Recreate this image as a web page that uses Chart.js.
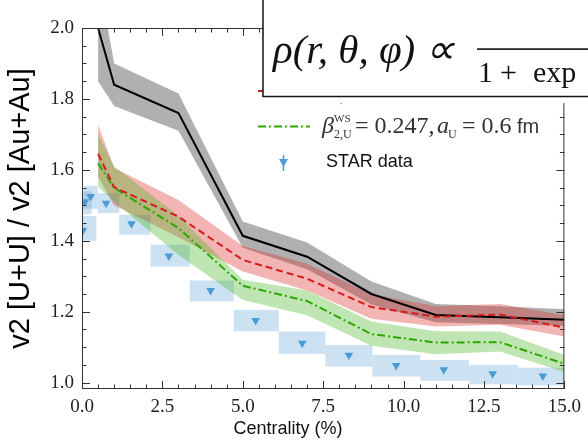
<!DOCTYPE html>
<html>
<head>
<meta charset="utf-8">
<script src="https://cdn.jsdelivr.net/npm/chart.js@4"></script>
<style>
  html, body { margin: 0; padding: 0; background: #fff; }
</style>
</head>
<body>
<canvas id="ratio" width="588" height="441"></canvas>
<script>
// model curves (centrality %)
const centrality = [0.5, 1, 3, 5, 7, 9, 11, 13, 15];
const blackMid = [2.0, 1.84, 1.76, 1.414, 1.355, 1.25, 1.191, 1.184, 1.177];
const blackLo = [1.85, 1.78, 1.71, 1.38, 1.32, 1.22, 1.17, 1.165, 1.16];
const blackHi = [2.15, 1.90, 1.815, 1.454, 1.395, 1.285, 1.222, 1.215, 1.207];
const redMid = [1.645, 1.551, 1.468, 1.346, 1.293, 1.213, 1.186, 1.192, 1.155];
const redLo = [1.58, 1.50, 1.41, 1.313, 1.26, 1.18, 1.158, 1.163, 1.13];
const redHi = [1.727, 1.605, 1.515, 1.385, 1.335, 1.25, 1.215, 1.222, 1.19];
const greenMid = [1.619, 1.549, 1.436, 1.273, 1.23, 1.137, 1.113, 1.114, 1.053];
const greenLo = [1.553, 1.51, 1.36, 1.233, 1.19, 1.104, 1.08, 1.088, 1.03];
const greenHi = [1.70, 1.61, 1.47, 1.29, 1.26, 1.172, 1.145, 1.144, 1.078];

// STAR data with systematic boxes
const starX = [0.03, 0.09, 0.27, 0.75, 1.54, 2.7, 4.0, 5.4, 6.85, 8.3, 9.77, 11.25, 12.77, 14.33];
const starY = [1.43, 1.51, 1.525, 1.506, 1.448, 1.357, 1.26, 1.175, 1.111, 1.077, 1.048, 1.036, 1.025, 1.019];
const starXLo = [-0.3, -0.2, 0.05, 0.49, 1.16, 2.13, 3.35, 4.72, 6.12, 7.57, 9.03, 10.52, 12.03, 13.55];
const starXHi = [0.45, 0.3, 0.49, 1.16, 2.13, 3.35, 4.72, 6.12, 7.57, 9.03, 10.52, 12.03, 13.55, 15.1];
const starYLo = [1.40, 1.475, 1.49, 1.478, 1.417, 1.327, 1.229, 1.145, 1.081, 1.045, 1.017, 1.005, 0.995, 0.992];
const starYHi = [1.47, 1.54, 1.555, 1.534, 1.473, 1.389, 1.288, 1.205, 1.144, 1.106, 1.078, 1.064, 1.05, 1.042];

const xTicks = [0, 2.5, 5, 7.5, 10, 12.5, 15];
const yTicks = [1.0, 1.2, 1.4, 1.6, 1.8, 2.0];

const pts = (ys) => centrality.map((x, i) => ({ x: x, y: ys[i] }));

const BLUE = "#4b9bd5";
const RED = "#d41c1c";
const GREEN = "#2aa800";

function band(ys, color) {
  return { data: pts(ys), borderWidth: 0, pointRadius: 0, fill: "+1", backgroundColor: color, order: 5 };
}
function edge(ys) {
  return { data: pts(ys), borderWidth: 0, pointRadius: 0, fill: false, order: 5 };
}

// boxes, inward ticks, spines, legend and formula box
const extras = {
  id: "extras",
  beforeDatasetsDraw(chart) {
    const { ctx, chartArea: a, scales: { x, y } } = chart;
    ctx.save();
    ctx.beginPath();
    ctx.rect(a.left, a.top, a.right - a.left, a.bottom - a.top);
    ctx.clip();
    ctx.fillStyle = "rgba(110,170,215,0.35)";
    for (let i = 0; i < starX.length; i++) {
      const x0 = x.getPixelForValue(starXLo[i]), x1 = x.getPixelForValue(starXHi[i]);
      const y0 = y.getPixelForValue(starYHi[i]), y1 = y.getPixelForValue(starYLo[i]);
      ctx.fillRect(x0, y0, x1 - x0, y1 - y0);
    }
    ctx.restore();
  },
  afterDraw(chart) {
    const { ctx, chartArea: a, scales: { x, y } } = chart;
    ctx.save();
    ctx.strokeStyle = "#333";
    ctx.lineWidth = 1;
    ctx.strokeRect(a.left + 0.5, a.top + 0.5, a.right - a.left - 1, a.bottom - a.top - 1);
    ctx.beginPath();
    for (let v = 0; v <= 15.001; v += 0.5) {
      const px = Math.round(x.getPixelForValue(v)) + 0.5;
      const len = Math.abs(v / 2.5 - Math.round(v / 2.5)) < 1e-6 ? 8 : 4.5;
      ctx.moveTo(px, a.bottom); ctx.lineTo(px, a.bottom - len);
      ctx.moveTo(px, a.top); ctx.lineTo(px, a.top + len);
    }
    for (let v = 1.0; v <= 2.0001; v += 0.05) {
      const py = Math.round(y.getPixelForValue(v)) + 0.5;
      const len = Math.abs(v / 0.2 - Math.round(v / 0.2)) < 1e-6 ? 8 : 4.5;
      ctx.moveTo(a.left, py); ctx.lineTo(a.left + len, py);
      ctx.moveTo(a.right, py); ctx.lineTo(a.right - len, py);
    }
    ctx.stroke();

    // x axis title
    ctx.fillStyle = "#111";
    ctx.font = '18px "Liberation Sans"';
    ctx.textAlign = "center";
    ctx.textBaseline = "alphabetic";
    ctx.fillText("Centrality (%)", 288, 434);

    // legend
    ctx.textAlign = "left";
    ctx.lineWidth = 2;
    ctx.strokeStyle = RED;
    ctx.setLineDash([7, 4]);
    ctx.beginPath(); ctx.moveTo(258, 91); ctx.lineTo(310, 91); ctx.stroke();
    ctx.strokeStyle = GREEN;
    ctx.setLineDash([8, 3, 2, 3]);
    ctx.beginPath(); ctx.moveTo(258, 126.5); ctx.lineTo(310, 126.5); ctx.stroke();
    ctx.setLineDash([]);

    const mathEntry = (base, rest) => {
      ctx.fillStyle = "#333";
      ctx.font = 'italic 24px "Liberation Serif"';
      ctx.fillText("\u03b2", 322, base);
      ctx.font = '11px "Liberation Serif"';
      ctx.fillText("WS", 334, base - 11);
      ctx.font = '12px "Liberation Serif"';
      ctx.fillText("2,U", 334, base + 5);
      if (!rest) return;
      ctx.font = '24px "Liberation Serif"';
      ctx.fillText("= 0.247,", 355, base);
      ctx.font = 'italic 24px "Liberation Serif"';
      ctx.fillText("a", 437, base);
      ctx.font = '12px "Liberation Serif"';
      ctx.fillText("U", 448, base + 5);
      ctx.font = '24px "Liberation Serif"';
      ctx.fillText("= 0.6", 462, base);
      ctx.font = '20px "Liberation Sans"';
      ctx.fillText("fm", 517, base);
    };
    mathEntry(97, false);
    mathEntry(133, true);

    ctx.strokeStyle = BLUE;
    ctx.fillStyle = BLUE;
    ctx.lineWidth = 1.5;
    ctx.beginPath(); ctx.moveTo(283.5, 155); ctx.lineTo(283.5, 171); ctx.stroke();
    ctx.beginPath(); ctx.moveTo(279, 159); ctx.lineTo(288, 159); ctx.lineTo(283.5, 167); ctx.closePath(); ctx.fill();
    ctx.fillStyle = "#111";
    ctx.font = '18px "Liberation Sans"';
    ctx.fillText("STAR data", 326, 167);

    // formula box (white margin reaches a little below its frame)
    ctx.fillStyle = "#fff";
    ctx.fillRect(263, -5, 400, 108);
    ctx.strokeStyle = "#111";
    ctx.lineWidth = 1.5;
    ctx.strokeRect(263, -5, 400, 101.5);
    ctx.fillStyle = "#111";
    ctx.font = 'italic 41px "Liberation Serif"';
    ctx.fillText("\u03c1(r, \u03b8, \u03c6) \u221d", 273, 63);
    ctx.fillRect(477, 48.3, 140, 1.6);
    ctx.font = '30px "Liberation Serif"';
    ctx.fillText("1", 478, 82);
    ctx.fillText("+", 500, 82);
    ctx.fillText("exp", 533, 82);
    ctx.restore();
  }
};

new Chart(document.getElementById("ratio"), {
  type: "line",
  data: {
    datasets: [
      { data: pts(blackMid), borderColor: "#000", borderWidth: 2, pointRadius: 0, fill: false, order: 1 },
      { data: pts(redMid), borderColor: RED, borderWidth: 2, borderDash: [7, 4], pointRadius: 0, fill: false, order: 0 },
      { data: pts(greenMid), borderColor: GREEN, borderWidth: 2, borderDash: [8, 3, 2, 3], pointRadius: 0, fill: false, order: 0 },
      {
        type: "scatter",
        data: starX.map((x, i) => ({ x: x, y: starY[i] })),
        pointStyle: "triangle", rotation: 180, pointRadius: 5,
        backgroundColor: BLUE, borderColor: BLUE, borderWidth: 0, order: 2
      },
      band(greenHi, "rgba(60,180,20,0.33)"), edge(greenLo),
      band(redHi, "rgba(222,40,40,0.35)"), edge(redLo),
      band(blackHi, "rgba(90,90,90,0.48)"), edge(blackLo)
    ]
  },
  options: {
    responsive: false,
    animation: false,
    devicePixelRatio: 1,
    layout: { padding: { top: 28, right: 22, left: 0, bottom: 0 } },
    plugins: { legend: { display: false }, tooltip: { enabled: false } },
    scales: {
      x: {
        type: "linear", min: 0, max: 15,
        afterFit: (s) => { s.height = 52; },
        afterBuildTicks: (s) => { s.ticks = xTicks.map((v) => ({ value: v })); },
        grid: { display: false, drawTicks: false },
        border: { display: false },
        ticks: { padding: 7, color: "#222", font: { family: "Liberation Serif", size: 19 }, callback: (v) => v.toFixed(1), maxRotation: 0 }
      },
      y: {
        type: "linear", min: 0.982, max: 2.0,
        afterFit: (s) => { s.width = 82; },
        afterBuildTicks: (s) => { s.ticks = yTicks.map((v) => ({ value: v })); },
        grid: { display: false, drawTicks: false },
        border: { display: false },
        ticks: { padding: 8, color: "#222", font: { family: "Liberation Serif", size: 19 }, callback: (v) => v.toFixed(1) },
        title: { display: true, text: "v2 [U+U] / v2 [Au+Au]", color: "#000", font: { family: "Liberation Sans", size: 29 }, padding: { top: 4, bottom: 0 } }
      }
    }
  },
  plugins: [extras]
});
</script>
</body>
</html>
